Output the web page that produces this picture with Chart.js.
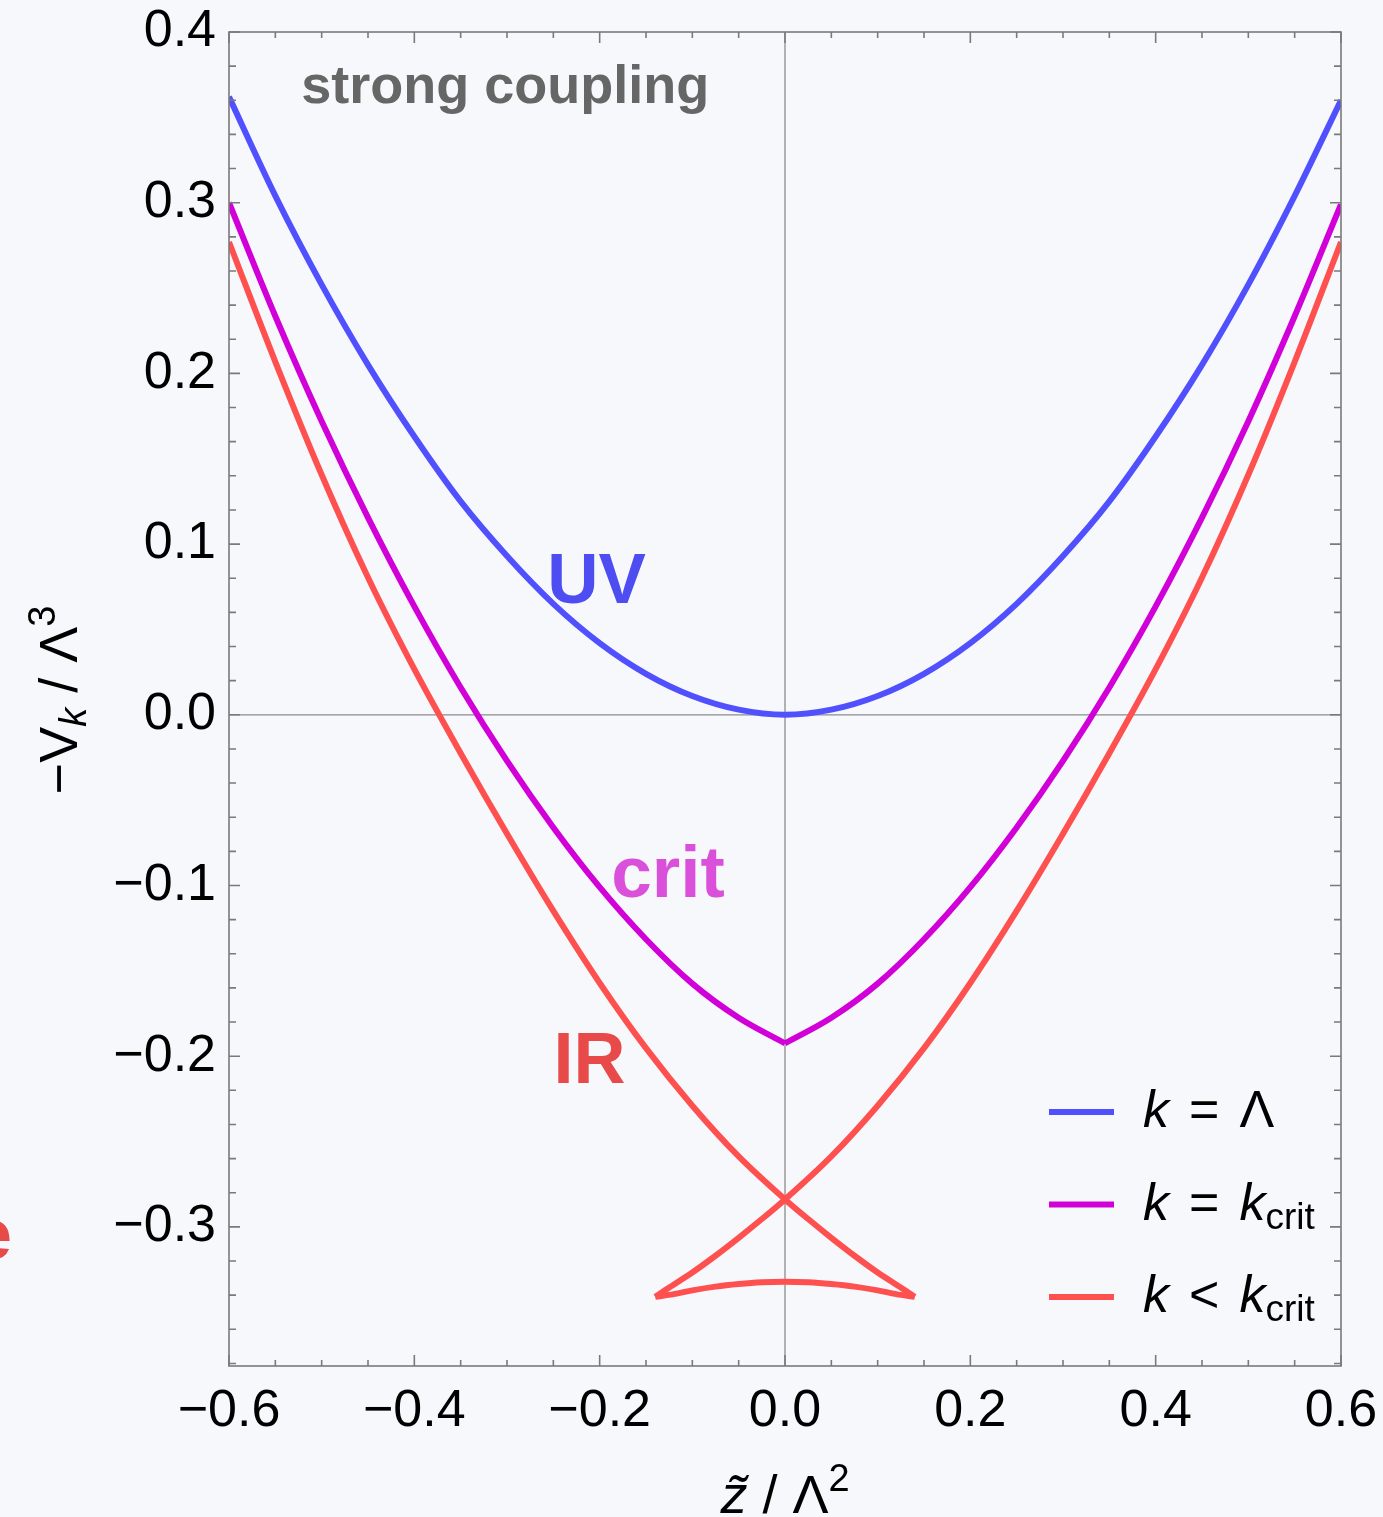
<!DOCTYPE html>
<html>
<head>
<meta charset="utf-8">
<script src="https://cdn.jsdelivr.net/npm/chart.js@4.4.1/dist/chart.umd.min.js"></script>
<style>
html, body { margin: 0; padding: 0; background: #f7f8fc; }
canvas { display: block; }
</style>
</head>
<body>
<canvas id="potChart" width="1383" height="1517"></canvas>
<script>
// z~ / Lambda^2 grid used for the UV and critical curves
const zGrid = [-0.6,-0.55,-0.5,-0.45,-0.4,-0.35,-0.3,-0.25,-0.2,-0.15,-0.1,-0.05,0,0.05,0.1,0.15,0.2,0.25,0.3,0.35,0.4,0.45,0.5,0.55,0.6];
const uvValues = [0.362,0.304,0.252,0.205,0.163,0.125,0.093,0.065,0.042,0.024,0.011,0.003,0,0.003,0.011,0.024,0.042,0.065,0.093,0.125,0.163,0.205,0.252,0.304,0.360];
const critValues = [0.300,0.2335,0.172,0.1155,0.0635,0.016,-0.027,-0.066,-0.101,-0.1315,-0.1575,-0.1775,-0.1925,-0.1775,-0.1575,-0.1315,-0.101,-0.066,-0.027,0.016,0.0635,0.1155,0.172,0.2335,0.299];

// IR curve (swallowtail): left branch, right branch, bottom arc
const irLeftZ = [-0.6,-0.55,-0.5,-0.45,-0.4,-0.35,-0.3,-0.25,-0.2,-0.15,-0.1,-0.05,0,0.025,0.05,0.075,0.1,0.125,0.14];
const irLeftV = [0.277,0.2068,0.1406,0.0804,0.0267,-0.0225,-0.0697,-0.1149,-0.1571,-0.1953,-0.229,-0.2587,-0.2839,-0.2954,-0.3064,-0.3169,-0.3267,-0.3355,-0.341];
const irRightZ = [-0.14,-0.125,-0.1,-0.075,-0.05,-0.025,0,0.05,0.1,0.15,0.2,0.25,0.3,0.35,0.4,0.45,0.5,0.55,0.6];
const irRightV = [-0.341,-0.3355,-0.3267,-0.3169,-0.3064,-0.2954,-0.2839,-0.2587,-0.229,-0.1953,-0.1571,-0.1149,-0.0697,-0.0225,0.0267,0.0804,0.1406,0.2068,0.277];
const irArcZ = [-0.14,-0.12,-0.1,-0.075,-0.05,-0.025,0,0.025,0.05,0.075,0.1,0.12,0.14];
const irArcV = [-0.341,-0.3394,-0.3372,-0.335,-0.3335,-0.3325,-0.3322,-0.3325,-0.3335,-0.335,-0.3372,-0.3394,-0.341];

const xTicks = [-0.6,-0.4,-0.2,0,0.2,0.4,0.6];
const yTicks = [-0.3,-0.2,-0.1,0,0.1,0.2,0.3,0.4];

const blue = '#5050ff', magenta = '#d200d8', red = '#ff5050';
const FONT = '"Liberation Sans", Arial, sans-serif';

const toPts = (xs, ys) => xs.map((x, i) => ({x: x, y: ys[i]}));
const fmt = v => (v < -1e-9 ? '\u2212' : '') + Math.abs(v).toFixed(1);

function line(data, color) {
    return {
        data: data,
        showLine: true,
        borderColor: color,
        borderWidth: 6,
        pointRadius: 0,
        cubicInterpolationMode: 'monotone',
        fill: false
    };
}

// draws a run of text pieces: [text, font, dy]
function drawRich(ctx, parts, x, y, align) {
    let w = 0;
    parts.forEach(p => { ctx.font = p[1]; w += ctx.measureText(p[0]).width; });
    let cx = align === 'center' ? x - w / 2 : x;
    parts.forEach(p => {
        ctx.font = p[1];
        ctx.fillText(p[0], cx, y + (p[2] || 0));
        cx += ctx.measureText(p[0]).width;
    });
}

const framePlugin = {
    id: 'frame',
    beforeDraw(chart) {
        const ctx = chart.ctx;
        ctx.save();
        ctx.fillStyle = '#f7f8fc';
        ctx.fillRect(0, 0, chart.width, chart.height);
        ctx.restore();
    },
    beforeDatasetsDraw(chart) {
        const {ctx, chartArea: a, scales: {x, y}} = chart;
        ctx.save();
        ctx.strokeStyle = '#8c8c8c';
        ctx.lineWidth = 1.3;
        ctx.beginPath();
        ctx.moveTo(x.getPixelForValue(0), a.top);
        ctx.lineTo(x.getPixelForValue(0), a.bottom);
        ctx.moveTo(a.left, y.getPixelForValue(0));
        ctx.lineTo(a.right, y.getPixelForValue(0));
        ctx.stroke();
        ctx.restore();
    },
    afterDatasetsDraw(chart) {
        const {ctx, chartArea: a, scales: {x, y}} = chart;
        ctx.save();
        // frame + inward ticks
        ctx.strokeStyle = '#7a7a7a';
        ctx.lineWidth = 1.6;
        ctx.strokeRect(a.left, a.top, a.right - a.left, a.bottom - a.top);
        ctx.beginPath();
        for (let i = -12; i <= 12; i++) {
            const px = x.getPixelForValue(i * 0.05);
            const len = i % 4 === 0 ? 11 : 6;
            ctx.moveTo(px, a.bottom); ctx.lineTo(px, a.bottom - len);
            ctx.moveTo(px, a.top); ctx.lineTo(px, a.top + len);
        }
        for (let i = -19; i <= 20; i++) {
            const py = y.getPixelForValue(i * 0.02);
            const len = i % 5 === 0 ? 11 : 7;
            ctx.moveTo(a.left, py); ctx.lineTo(a.left + len, py);
            ctx.moveTo(a.right, py); ctx.lineTo(a.right - len, py);
        }
        ctx.stroke();

        // labels inside the plot
        ctx.textAlign = 'left';
        ctx.textBaseline = 'alphabetic';
        ctx.fillStyle = '#666666';
        ctx.font = 'bold 54px ' + FONT;
        ctx.fillText('strong coupling', x.getPixelForValue(-0.522), y.getPixelForValue(0.3586));
        ctx.fillStyle = '#4d4df2';
        ctx.font = 'bold 71px ' + FONT;
        ctx.fillText('UV', x.getPixelForValue(-0.2565), y.getPixelForValue(0.0654));
        ctx.fillStyle = '#da50da';
        ctx.font = 'bold 73px ' + FONT;
        ctx.fillText('crit', x.getPixelForValue(-0.1875), y.getPixelForValue(-0.1068));
        ctx.fillStyle = '#e84a4a';
        ctx.font = 'bold 72px ' + FONT;
        ctx.fillText('IR', x.getPixelForValue(-0.2497), y.getPixelForValue(-0.216));

        // clipped letter at the left border
        ctx.textAlign = 'right';
        ctx.fillText('e', 12, 1259);

        // legend
        ctx.textAlign = 'left';
        const reg = '52px ' + FONT, it = 'italic 52px ' + FONT, sub = '37px ' + FONT, gap = '72px ' + FONT;
        const rows = [
            [blue, [['k', it], [' ', gap], ['=', reg], [' ', gap], ['\u039B', reg]]],
            [magenta, [['k', it], [' ', gap], ['=', reg], [' ', gap], ['k', it], ['crit', sub, 9]]],
            [red, [['k', it], [' ', gap], ['<', reg], [' ', gap], ['k', it], ['crit', sub, 9]]]
        ];
        rows.forEach((r, i) => {
            const base = 1127 + i * 92.5;
            ctx.strokeStyle = r[0];
            ctx.lineWidth = 6;
            ctx.beginPath();
            ctx.moveTo(1049, base - 15);
            ctx.lineTo(1114, base - 15);
            ctx.stroke();
            ctx.fillStyle = '#000';
            drawRich(ctx, r[1], 1143, base, 'left');
        });

        // axis titles
        ctx.fillStyle = '#000';
        const big = '54px ' + FONT, small = '38px ' + FONT;
        drawRich(ctx, [['z\u0303', 'italic ' + big], [' / \u039B', big], ['2', small, -22]], x.getPixelForValue(0), 1513, 'center');
        ctx.translate(77, 700);
        ctx.rotate(-Math.PI / 2);
        drawRich(ctx, [['\u2212V', big], ['k', 'italic ' + small, 9], [' / \u039B', big], ['3', small, -22]], 0, 0, 'center');
        ctx.restore();
    }
};

function noPad(s) {
    s.paddingTop = 0; s.paddingBottom = 0; s.paddingLeft = 0; s.paddingRight = 0;
}

new Chart(document.getElementById('potChart'), {
    type: 'scatter',
    data: {
        datasets: [
            line(toPts(zGrid, uvValues), blue),
            line(toPts(zGrid.slice(0, 13), critValues.slice(0, 13)), magenta),
            line(toPts(zGrid.slice(12), critValues.slice(12)), magenta),
            line(toPts(irLeftZ, irLeftV), red),
            line(toPts(irRightZ, irRightV), red),
            line(toPts(irArcZ, irArcV), red)
        ]
    },
    options: {
        responsive: false,
        animation: false,
        layout: { padding: { top: 32, right: 42, left: 0, bottom: 0 } },
        plugins: { legend: { display: false }, tooltip: { enabled: false } },
        scales: {
            x: {
                type: 'linear',
                min: -0.6,
                max: 0.6,
                grid: { display: false, drawTicks: false, tickLength: 0 },
                border: { display: false },
                afterBuildTicks: s => { s.ticks = xTicks.map(v => ({value: v})); },
                afterFit: s => { s.height = 151; noPad(s); },
                ticks: {
                    padding: 14,
                    maxRotation: 0,
                    autoSkip: false,
                    color: '#000',
                    font: { family: FONT, size: 52 },
                    callback: v => fmt(v)
                }
            },
            y: {
                type: 'linear',
                min: -0.3815,
                max: 0.4,
                grid: { display: false, drawTicks: false, tickLength: 0 },
                border: { display: false },
                afterBuildTicks: s => { s.ticks = yTicks.map(v => ({value: v})); },
                afterFit: s => { s.width = 229; noPad(s); },
                ticks: {
                    padding: 13,
                    autoSkip: false,
                    color: '#000',
                    font: { family: FONT, size: 52 },
                    callback: v => fmt(v)
                }
            }
        }
    },
    plugins: [framePlugin]
});
</script>
</body>
</html>
